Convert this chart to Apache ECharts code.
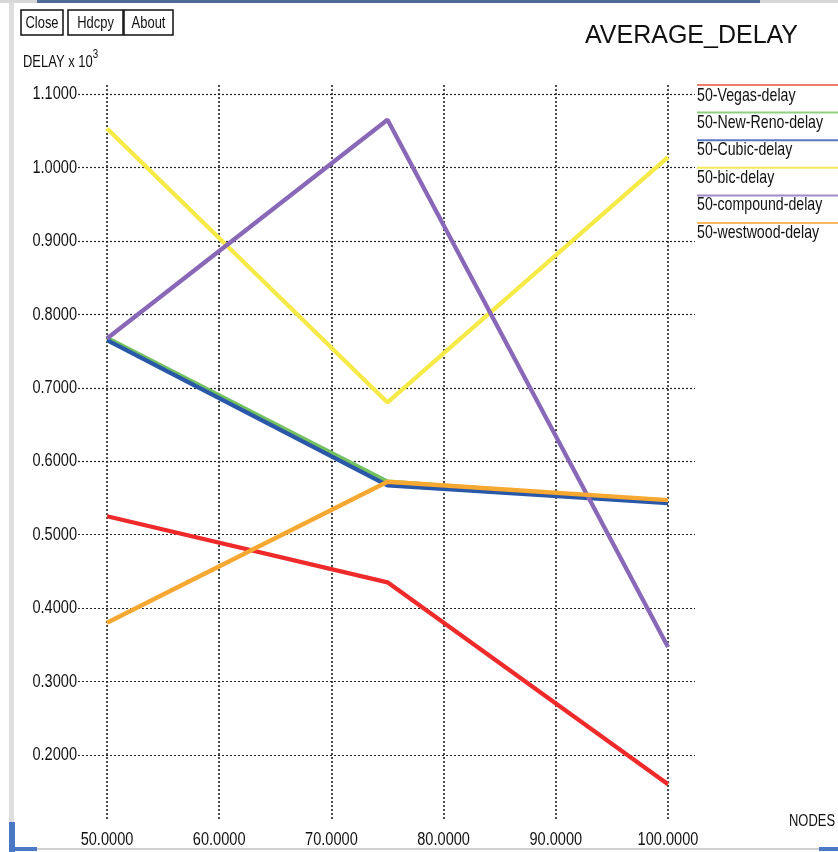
<!DOCTYPE html>
<html>
<head>
<meta charset="utf-8">
<script src="https://cdn.jsdelivr.net/npm/echarts@6/dist/echarts.min.js"></script>
<style>
  html, body { margin: 0; padding: 0; background: #fff; }
  #chart { width: 838px; height: 852px; }
</style>
</head>
<body>
<div id="chart"></div>
<script>
// Node counts on the x axis
const nodes = [50, 75, 100];

// Tick labels
const xTicks = [50, 60, 70, 80, 90, 100];
const yTicks = [0.2, 0.3, 0.4, 0.5, 0.6, 0.7, 0.8, 0.9, 1.0, 1.1];

// Average delay (x 10^3) per TCP variant
const seriesNames = [
  '50-Vegas-delay', '50-New-Reno-delay', '50-Cubic-delay',
  '50-bic-delay', '50-compound-delay', '50-westwood-delay'
];
const vegasDelay    = [0.525, 0.435, 0.160];
const newRenoDelay  = [0.768, 0.572, 0.545];
const cubicDelay    = [0.765, 0.567, 0.543];
const bicDelay      = [1.053, 0.680, 1.014];
const compoundDelay = [0.767, 1.065, 0.347];
const westwoodDelay = [0.380, 0.572, 0.547];

const seriesValues = [vegasDelay, newRenoDelay, cubicDelay, bicDelay, compoundDelay, westwoodDelay];
const lineColors   = ['#ee2a2a', '#72c060', '#2a58a8', '#f6ea48', '#8a68b8', '#f6a830'];
const keyColors    = ['#f47c6c', '#8fd080', '#5878c0', '#f6ea58', '#a488c8', '#f6b860'];

const sans = '"Liberation Sans", Arial, sans-serif';
const squeeze = 0.81;   // condensed look for the X-style labels

const chart = echarts.init(document.getElementById('chart'), null, { renderer: 'canvas' });

const series = seriesNames.map((name, i) => ({
  name,
  type: 'line',
  xAxisIndex: 1,
  yAxisIndex: 1,
  data: nodes.map((n, k) => [n, seriesValues[i][k]]),
  symbol: 'none',
  lineStyle: { width: 4.3, color: lineColors[i] },
  itemStyle: { color: lineColors[i] },
  z: 3 + i
}));

chart.setOption({
  animation: false,
  backgroundColor: '#fff',
  grid: [
    // horizontal rules
    { left: 78, right: 143, top: 94, bottom: 97 },
    // data area spanning 50..100 nodes
    { left: 107, right: 170, top: 85, bottom: 32 }
  ],
  xAxis: [
    { gridIndex: 0, type: 'value', min: 0, max: 1, show: false },
    {
      gridIndex: 1, type: 'value', min: xTicks[0], max: xTicks[xTicks.length - 1], interval: 10,
      axisLine: { show: false }, axisTick: { show: false }, axisLabel: { show: false },
      splitLine: { show: true, lineStyle: { type: [2, 2], width: 1.6, color: '#222' } }
    }
  ],
  yAxis: [
    {
      gridIndex: 0, type: 'value', min: yTicks[0], max: yTicks[yTicks.length - 1], interval: 0.1,
      axisLine: { show: false }, axisTick: { show: false }, axisLabel: { show: false },
      splitLine: { show: true, lineStyle: { type: [2, 2], width: 1.2, color: '#222' } }
    },
    {
      gridIndex: 1, type: 'value', min: 0.1114, max: 1.1123,
      show: false, splitLine: { show: false }
    }
  ],
  series
});

// Condensed text helper (anchor stays at x,y while glyphs are narrowed)
function narrowText(x, y, text, size, align, vAlign, sy) {
  return {
    type: 'text', x, y, scaleX: squeeze, scaleY: sy || 1,
    style: { text, font: size + 'px ' + sans, fill: '#111', align, verticalAlign: vAlign }
  };
}

// Tick labels placed through the axes' own scales
const tickLabels = [];
yTicks.forEach(v => {
  const py = chart.convertToPixel({ yAxisIndex: 0 }, v);
  tickLabels.push(narrowText(77, py, v.toFixed(4), 18, 'right', 'middle', 1.05));
});
xTicks.forEach(v => {
  const px = chart.convertToPixel({ xAxisIndex: 1 }, v);
  tickLabels.push(narrowText(px, 840, v.toFixed(4), 18, 'center', 'middle', 1.05));
});

// Legend: a thin key line over each name, down the right edge
const legendItems = [];
seriesNames.forEach((name, i) => {
  legendItems.push({
    type: 'line',
    shape: { x1: 697, y1: 85 + i * 27.6, x2: 838, y2: 85 + i * 27.6 },
    style: { stroke: keyColors[i], lineWidth: 2 }
  });
  legendItems.push(narrowText(697, 95.5 + i * 27.4, name, 17.5, 'left', 'middle', 1.05));
});

// Toolbar buttons
const buttons = [
  { label: 'Close', x: 21, w: 42 },
  { label: 'Hdcpy', x: 68, w: 55 },
  { label: 'About', x: 124, w: 49 }
];
const buttonItems = [];
buttons.forEach(b => {
  buttonItems.push({
    type: 'rect',
    shape: { x: b.x, y: 10, width: b.w, height: 25 },
    style: { fill: '#fff', stroke: '#111', lineWidth: 1.5 }
  });
  buttonItems.push(narrowText(b.x + b.w / 2, 23, b.label, 16, 'center', 'middle', 1.05));
});

// Window frame edges
const frameItems = [
  { type: 'rect', shape: { x: 0, y: 0, width: 37, height: 3 }, style: { fill: '#d8d8d8' } },
  { type: 'rect', shape: { x: 37, y: 0, width: 723, height: 3 }, style: { fill: '#4f6b98' } },
  { type: 'rect', shape: { x: 760, y: 0, width: 78, height: 3 }, style: { fill: '#d8d8d8' } },
  { type: 'rect', shape: { x: 9, y: 3, width: 5, height: 820 }, style: { fill: '#dedede' } },
  { type: 'rect', shape: { x: 9, y: 822, width: 6, height: 30 }, style: { fill: '#4a78c4' } },
  { type: 'rect', shape: { x: 9, y: 847, width: 28, height: 4 }, style: { fill: '#4a78c4' } },
  { type: 'rect', shape: { x: 37, y: 848, width: 782, height: 2 }, style: { fill: '#d0d0d0' } },
  { type: 'rect', shape: { x: 819, y: 847, width: 19, height: 4 }, style: { fill: '#4a78c4' } }
];

chart.setOption({
  graphic: [
    ...frameItems,
    ...buttonItems,
    {
      type: 'text', x: 585, y: 36, scaleY: 1.05,
      style: { text: 'AVERAGE_DELAY', font: '25px ' + sans, fill: '#111', verticalAlign: 'middle' }
    },
    {
      type: 'text', x: 23, y: 49, scaleX: squeeze,
      style: {
        text: '{a|DELAY x 10}{b|3}',
        verticalAlign: 'top',
        rich: {
          a: { font: '16px ' + sans, fill: '#111', verticalAlign: 'bottom', padding: [6, 0, 0, 0] },
          b: { font: '12px ' + sans, fill: '#111', verticalAlign: 'top' }
        }
      }
    },
    narrowText(789, 821, 'NODES', 16, 'left', 'middle', 1.05),
    ...legendItems,
    ...tickLabels
  ]
});
</script>
</body>
</html>
